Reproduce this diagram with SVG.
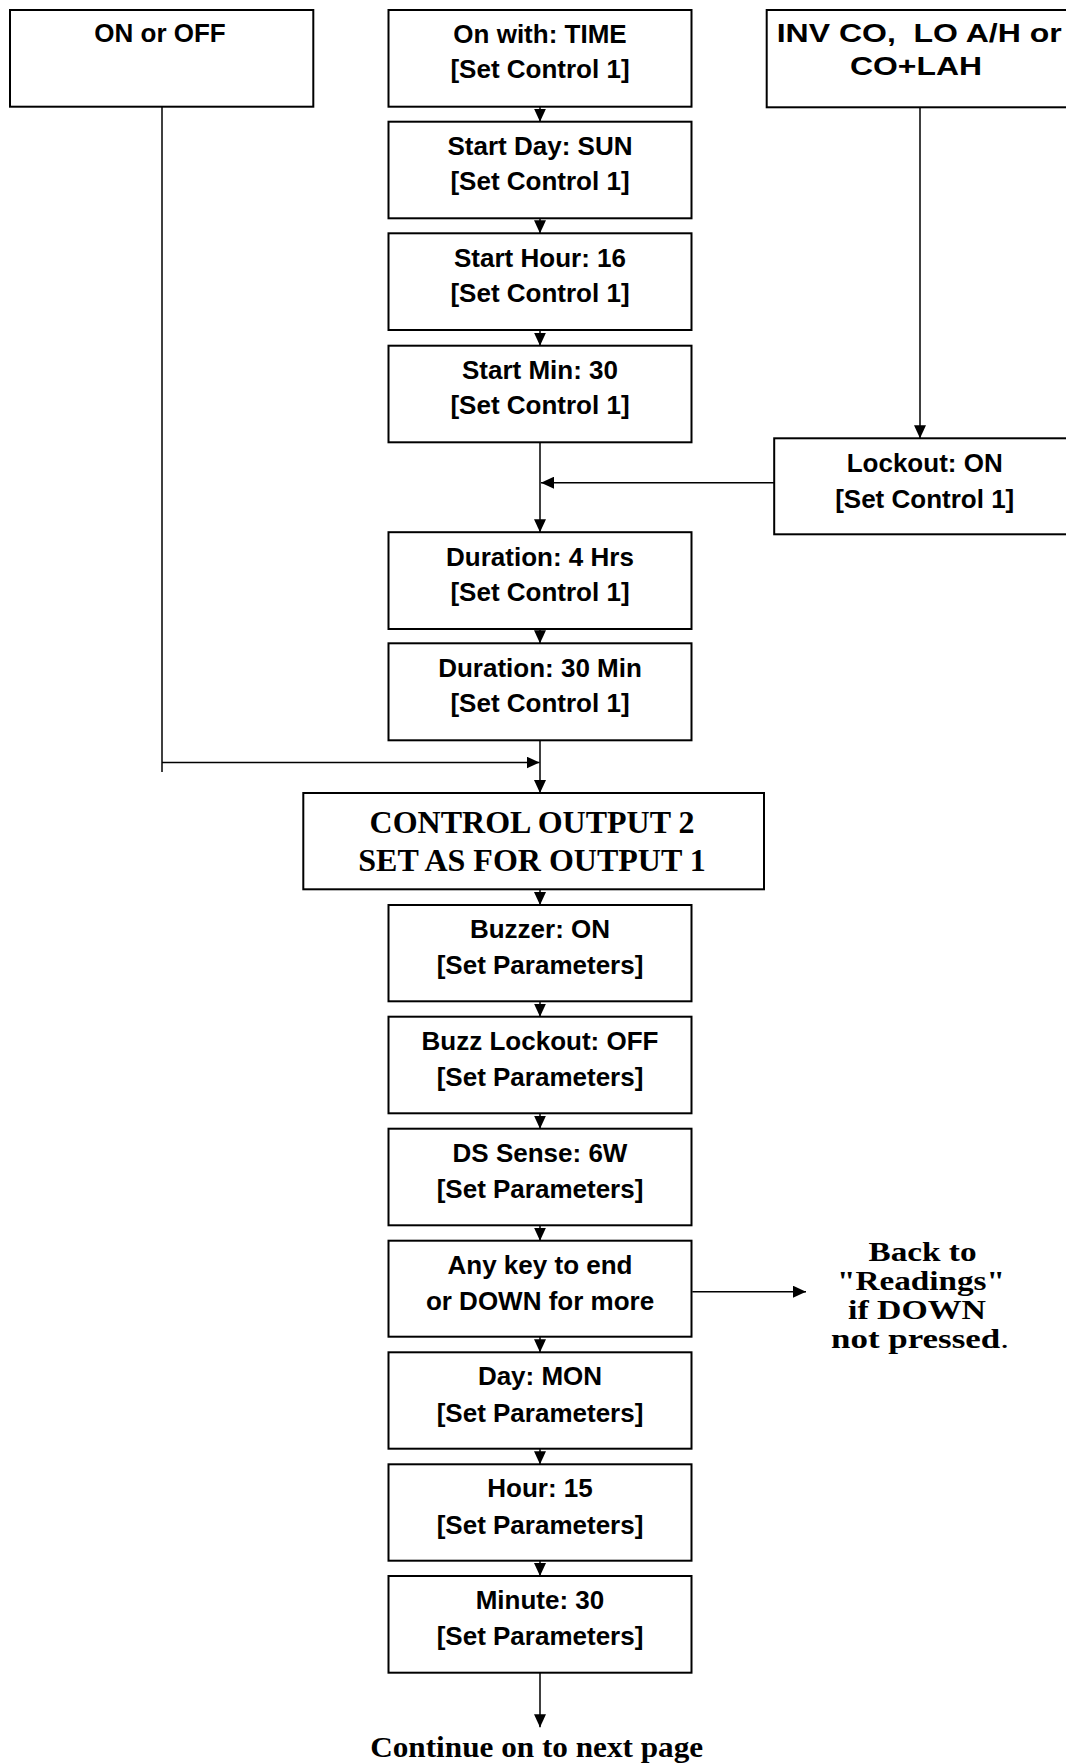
<svg xmlns="http://www.w3.org/2000/svg" width="1066" height="1764" viewBox="0 0 1066 1764">
<style>
.box{fill:#fff;stroke:#000;stroke-width:2}
.t{font-family:"Liberation Sans",Arial,sans-serif;font-weight:bold;font-size:26px;text-anchor:middle;fill:#000}
.s{font-family:"Liberation Serif","Times New Roman",serif;font-weight:bold;fill:#000}
.c line{stroke:#000;stroke-width:1.5;fill:none}
.a{marker-end:url(#ah)}
</style>
<defs>
<marker id="ah" markerUnits="userSpaceOnUse" markerWidth="13" markerHeight="12" refX="13" refY="6" orient="auto">
<path d="M0,0 L13,6 L0,12 z" fill="#000"/>
</marker>
</defs>
<rect width="1066" height="1764" fill="#fff"/>

<g id="connectors" class="c">
<line class="a" x1="540" y1="106.7" x2="540" y2="121.7"/>
<line class="a" x1="540" y1="218.3" x2="540" y2="233.3"/>
<line class="a" x1="540" y1="330" x2="540" y2="345.7"/>
<line class="a" x1="540" y1="442.3" x2="540" y2="532.2"/>
<line class="a" x1="774" y1="482.7" x2="541" y2="482.7"/>
<line class="a" x1="920" y1="107.3" x2="920" y2="438.3"/>
<line class="a" x1="540" y1="629" x2="540" y2="643.3"/>
<line class="a" x1="540" y1="740.3" x2="540" y2="793"/>
<line x1="162" y1="106.7" x2="162" y2="772"/>
<line class="a" x1="162" y1="762.5" x2="539.5" y2="762.5"/>
<line class="a" x1="540" y1="889.3" x2="540" y2="905"/>
<line class="a" x1="540" y1="1001.3" x2="540" y2="1016.7"/>
<line class="a" x1="540" y1="1113.3" x2="540" y2="1128.7"/>
<line class="a" x1="540" y1="1225.3" x2="540" y2="1240.7"/>
<line class="a" x1="540" y1="1336.7" x2="540" y2="1352.3"/>
<line class="a" x1="540" y1="1448.7" x2="540" y2="1464.3"/>
<line class="a" x1="540" y1="1560.7" x2="540" y2="1576"/>
<line class="a" x1="540" y1="1672.7" x2="540" y2="1727.3"/>
<line class="a" x1="692.3" y1="1291.7" x2="806" y2="1291.7"/>
</g>

<g id="n-onoff">
<rect class="box" x="10" y="10" width="303.3" height="96.7"/>
<text class="t" x="160" y="41.5">ON or OFF</text>
</g>

<g id="n-onwith">
<rect class="box" x="388.5" y="10" width="303" height="96.7"/>
<text class="t" x="540" y="43.3">On with: TIME</text>
<text class="t" x="540" y="78.3">[Set Control 1]</text>
</g>

<g id="n-inv">
<rect class="box" x="766.7" y="10" width="306" height="97.3"/>
<text class="t" x="776.7" y="41.7" style="text-anchor:start;white-space:pre" textLength="285" lengthAdjust="spacingAndGlyphs">INV CO,  LO A/H or</text>
<text class="t" x="850" y="75" style="text-anchor:start" textLength="132" lengthAdjust="spacingAndGlyphs">CO+LAH</text>
</g>

<g id="n-startday">
<rect class="box" x="388.5" y="121.7" width="303" height="96.6"/>
<text class="t" x="540" y="155">Start Day: SUN</text>
<text class="t" x="540" y="190">[Set Control 1]</text>
</g>

<g id="n-starthour">
<rect class="box" x="388.5" y="233.3" width="303" height="96.7"/>
<text class="t" x="540" y="266.6">Start Hour: 16</text>
<text class="t" x="540" y="301.6">[Set Control 1]</text>
</g>

<g id="n-startmin">
<rect class="box" x="388.5" y="345.7" width="303" height="96.6"/>
<text class="t" x="540" y="379">Start Min: 30</text>
<text class="t" x="540" y="414">[Set Control 1]</text>
</g>

<g id="n-lockout">
<rect class="box" x="774.2" y="438.3" width="302" height="96"/>
<text class="t" x="924.7" y="471.7">Lockout: ON</text>
<text class="t" x="924.7" y="507.5">[Set Control 1]</text>
</g>

<g id="n-dur4">
<rect class="box" x="388.5" y="532.2" width="303" height="96.8"/>
<text class="t" x="540" y="565.5">Duration: 4 Hrs</text>
<text class="t" x="540" y="600.5">[Set Control 1]</text>
</g>

<g id="n-dur30">
<rect class="box" x="388.5" y="643.3" width="303" height="97"/>
<text class="t" x="540" y="676.6">Duration: 30 Min</text>
<text class="t" x="540" y="711.6">[Set Control 1]</text>
</g>

<g id="n-control2">
<rect class="box" x="303.3" y="793" width="460.7" height="96.3"/>
<text class="s" x="532" y="833.3" font-size="32" text-anchor="middle">CONTROL OUTPUT 2</text>
<text class="s" x="532" y="870.7" font-size="32" text-anchor="middle">SET AS FOR OUTPUT 1</text>
</g>

<g id="n-buzzer">
<rect class="box" x="388.5" y="905" width="303" height="96.3"/>
<text class="t" x="540" y="937.8">Buzzer: ON</text>
<text class="t" x="540" y="974.3">[Set Parameters]</text>
</g>

<g id="n-buzzlock">
<rect class="box" x="388.5" y="1016.7" width="303" height="96.6"/>
<text class="t" x="540" y="1049.7">Buzz Lockout: OFF</text>
<text class="t" x="540" y="1086">[Set Parameters]</text>
</g>

<g id="n-dssense">
<rect class="box" x="388.5" y="1128.7" width="303" height="96.6"/>
<text class="t" x="540" y="1161.7">DS Sense: 6W</text>
<text class="t" x="540" y="1198">[Set Parameters]</text>
</g>

<g id="n-anykey">
<rect class="box" x="388.5" y="1240.7" width="303" height="96"/>
<text class="t" x="540" y="1273.7">Any key to end</text>
<text class="t" x="540" y="1310">or DOWN for more</text>
</g>

<g id="n-back">
<text class="s" x="922.5" y="1261" font-size="27.5" text-anchor="middle" textLength="108" lengthAdjust="spacingAndGlyphs">Back to</text>
<text class="s" x="921" y="1290" font-size="27.5" text-anchor="middle" textLength="168" lengthAdjust="spacingAndGlyphs">"Readings"</text>
<text class="s" x="917" y="1319" font-size="27.5" text-anchor="middle" textLength="138" lengthAdjust="spacingAndGlyphs">if DOWN</text>
<text class="s" x="920" y="1348" font-size="27.5" text-anchor="middle" textLength="178" lengthAdjust="spacingAndGlyphs">not pressed<tspan font-weight="normal">.</tspan></text>
</g>

<g id="n-day">
<rect class="box" x="388.5" y="1352.3" width="303" height="96.4"/>
<text class="t" x="540" y="1385.3">Day: MON</text>
<text class="t" x="540" y="1421.6">[Set Parameters]</text>
</g>

<g id="n-hour">
<rect class="box" x="388.5" y="1464.3" width="303" height="96.4"/>
<text class="t" x="540" y="1497.3">Hour: 15</text>
<text class="t" x="540" y="1533.6">[Set Parameters]</text>
</g>

<g id="n-minute">
<rect class="box" x="388.5" y="1576" width="303" height="96.7"/>
<text class="t" x="540" y="1609">Minute: 30</text>
<text class="t" x="540" y="1645.3">[Set Parameters]</text>
</g>

<g id="n-continue">
<text class="s" x="536.7" y="1756.7" font-size="29" text-anchor="middle" textLength="333" lengthAdjust="spacingAndGlyphs">Continue on to next page</text>
</g>
</svg>
